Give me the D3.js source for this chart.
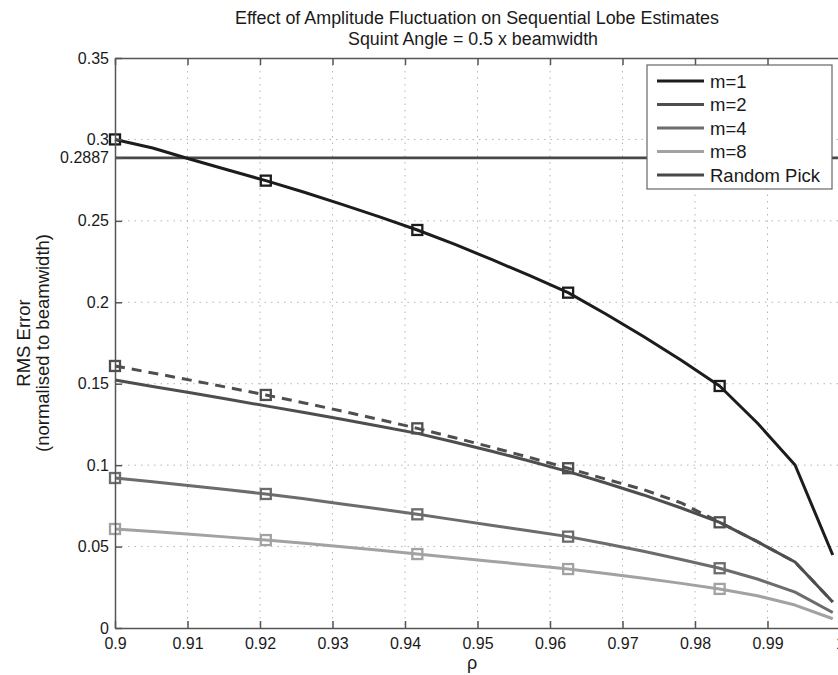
<!DOCTYPE html>
<html>
<head>
<meta charset="utf-8">
<script src="https://cdn.jsdelivr.net/npm/d3@7"></script>
<style>
	body { margin: 0; background: #ffffff; }
	svg { display: block; font-family: "Liberation Sans", Arial, Helvetica, sans-serif; }
</style>
</head>
<body>
<svg id="chart" width="838" height="675"></svg>
<script>

// rho samples (20 points from 0.9 to 0.999)
var vfRho = [0.9, 0.9052, 0.9104, 0.9156, 0.9208, 0.9261, 0.9313, 0.9365, 0.9417, 0.9469,
			 0.9521, 0.9573, 0.9625, 0.9677, 0.9729, 0.9781, 0.9834, 0.9886, 0.9938, 0.999];

var vfM1 = [0.300, 0.2947, 0.2878, 0.2812, 0.2747, 0.2676, 0.2601, 0.2524, 0.2444, 0.2355,
			0.2260, 0.2162, 0.2059, 0.1928, 0.1790, 0.1644, 0.1486, 0.1259, 0.1001, 0.0448];

var vfM2 = [0.1523, 0.1483, 0.1444, 0.1404, 0.1364, 0.1323, 0.1282, 0.1239, 0.1195, 0.1141,
			0.1084, 0.1024, 0.0960, 0.0890, 0.0817, 0.0737, 0.0649, 0.0530, 0.0405, 0.0160];

// dashed curve with open squares above m=2
var vfM2Theory = [0.1609, 0.1566, 0.1522, 0.1477, 0.1431, 0.1382, 0.1332, 0.1280, 0.1226, 0.1168,
				  0.1108, 0.1046, 0.0981, 0.0914, 0.0850, 0.0768, 0.0649, 0.0530, 0.0405, 0.0160];

var vfM4 = [0.0921, 0.0898, 0.0874, 0.0849, 0.0823, 0.0793, 0.0762, 0.0731, 0.0698, 0.0664,
			0.0630, 0.0596, 0.0561, 0.0517, 0.0471, 0.0421, 0.0367, 0.0301, 0.0220, 0.0095];

var vfM8 = [0.0608, 0.0593, 0.0576, 0.0558, 0.0540, 0.0520, 0.0499, 0.0477, 0.0454, 0.0432,
			0.0409, 0.0386, 0.0362, 0.0335, 0.0306, 0.0274, 0.0240, 0.0198, 0.0141, 0.0057];

var fRandomPick = 0.2887;

var vnMarkerIndex = [0, 4, 8, 12, 16];

var vfXTicks = [0.9, 0.91, 0.92, 0.93, 0.94, 0.95, 0.96, 0.97, 0.98, 0.99, 1.0];
var vsXTickLabels = ["0.9", "0.91", "0.92", "0.93", "0.94", "0.95", "0.96", "0.97", "0.98", "0.99", "1"];

var vfYTicks = [0, 0.05, 0.1, 0.15, 0.2, 0.25, 0.2887, 0.3, 0.35];
var vsYTickLabels = ["0", "0.05", "0.1", "0.15", "0.2", "0.25", "0.2887", "0.3", "0.35"];

var vsLegend = ["m=1", "m=2", "m=4", "m=8", "Random Pick"];

var g_colorM1 = "#1c1c1c";
var g_colorM2 = "#4e4e4e";
var g_colorM4 = "#6c6c6c";
var g_colorM8 = "#a2a2a2";
var g_colorRandom = "#484848";
var g_colorAxis = "#555555";
var g_colorGrid = "#b4b4b4";

var nLeft = 115, nRight = 840, nTop = 58, nBottom = 628;

var g_domSVG = d3.select("#chart");

g_domSVG.append("rect")
			.attr("width", 838)
			.attr("height", 675)
			.attr("fill", "#ffffff");

var xScale = d3.scaleLinear().domain([0.9, 1.0]).range([nLeft, nRight]);
var yScale = d3.scaleLinear().domain([0, 0.35]).range([nBottom, nTop]);

// ---------------------------------------------------------------- grid

g_domSVG.selectAll("line.gridx")
			.data(vfXTicks.slice(1, -1))
			.enter()
			.append("line")
				.attr("class", "gridx")
				.attr("x1", function(d) { return xScale(d); })
				.attr("x2", function(d) { return xScale(d); })
				.attr("y1", nTop)
				.attr("y2", nBottom)
				.attr("stroke", g_colorGrid)
				.attr("stroke-width", 1)
				.attr("stroke-dasharray", "1.5,5");

g_domSVG.selectAll("line.gridy")
			.data(vfYTicks.filter(function(d) { return d > 0 && d < 0.35; }))
			.enter()
			.append("line")
				.attr("class", "gridy")
				.attr("x1", nLeft)
				.attr("x2", nRight)
				.attr("y1", function(d) { return yScale(d); })
				.attr("y2", function(d) { return yScale(d); })
				.attr("stroke", g_colorGrid)
				.attr("stroke-width", 1)
				.attr("stroke-dasharray", "1.5,5");

// ---------------------------------------------------------------- curves

var funcLine = d3.line()
				.x(function(d) { return xScale(d[0]); })
				.y(function(d) { return yScale(d[1]); });

function funcPairs(vfValues) {
	return vfRho.map(function(r, i) { return [r, vfValues[i]]; });
}

g_domSVG.append("line")
			.attr("x1", xScale(0.9))
			.attr("x2", xScale(1.0))
			.attr("y1", yScale(fRandomPick))
			.attr("y2", yScale(fRandomPick))
			.attr("stroke", g_colorRandom)
			.attr("stroke-width", 2.6);

var vCurves = [
	{ values: vfM8, color: g_colorM8, dash: null, markers: true },
	{ values: vfM4, color: g_colorM4, dash: null, markers: true },
	{ values: vfM2, color: g_colorM2, dash: null, markers: false },
	{ values: vfM2Theory, color: g_colorM2, dash: "10,7", markers: true },
	{ values: vfM1, color: g_colorM1, dash: null, markers: true }
];

vCurves.forEach(function(c) {

	g_domSVG.append("path")
				.attr("d", funcLine(funcPairs(c.values)))
				.attr("fill", "none")
				.attr("stroke", c.color)
				.attr("stroke-width", 3)
				.attr("stroke-linejoin", "round")
				.attr("stroke-dasharray", c.dash);

	if (!c.markers)
		return;

	g_domSVG.selectAll(null)
				.data(vnMarkerIndex)
				.enter()
				.append("rect")
					.attr("x", function(i) { return xScale(vfRho[i]) - 5; })
					.attr("y", function(i) { return yScale(c.values[i]) - 5; })
					.attr("width", 10)
					.attr("height", 10)
					.attr("fill", "none")
					.attr("stroke", c.color)
					.attr("stroke-width", 2.3);
});

// ---------------------------------------------------------------- axes

var xAxis = d3.axisBottom(xScale)
				.tickValues(vfXTicks)
				.tickFormat(function(d, i) { return vsXTickLabels[i]; })
				.tickSizeInner(-7)
				.tickSizeOuter(0)
				.tickPadding(10);

var yAxis = d3.axisLeft(yScale)
				.tickValues(vfYTicks)
				.tickFormat(function(d, i) { return vsYTickLabels[i]; })
				.tickSizeInner(-7)
				.tickSizeOuter(0)
				.tickPadding(6);

var xTop = d3.axisTop(xScale)
				.tickValues(vfXTicks)
				.tickFormat("")
				.tickSizeInner(-7)
				.tickSizeOuter(0);

var gX = g_domSVG.append("g").attr("transform", "translate(0," + nBottom + ")").call(xAxis);
var gY = g_domSVG.append("g").attr("transform", "translate(" + nLeft + ",0)").call(yAxis);
var gTop = g_domSVG.append("g").attr("transform", "translate(0," + nTop + ")").call(xTop);

[gX, gY, gTop].forEach(function(g) {
	g.selectAll("path.domain").attr("stroke", g_colorAxis).attr("stroke-width", 1.5);
	g.selectAll(".tick line").attr("stroke", g_colorAxis).attr("stroke-width", 1.5);
	g.selectAll(".tick text")
		.attr("fill", "#1a1a1a")
		.attr("font-size", "16px")
		.attr("font-family", "'Liberation Sans', Arial, sans-serif");
});

// ---------------------------------------------------------------- titles

g_domSVG.append("text")
			.attr("x", 477)
			.attr("y", 24)
			.attr("text-anchor", "middle")
			.attr("font-size", "18px")
			.attr("fill", "#1a1a1a")
			.attr("textLength", 484)
			.attr("lengthAdjust", "spacingAndGlyphs")
			.text("Effect of Amplitude Fluctuation on Sequential Lobe Estimates");

g_domSVG.append("text")
			.attr("x", 473)
			.attr("y", 45)
			.attr("text-anchor", "middle")
			.attr("font-size", "18px")
			.attr("fill", "#1a1a1a")
			.attr("textLength", 250)
			.attr("lengthAdjust", "spacingAndGlyphs")
			.text("Squint Angle = 0.5 x beamwidth");

g_domSVG.append("text")
			.attr("transform", "translate(30," + ((nTop + nBottom) / 2) + ") rotate(-90)")
			.attr("text-anchor", "middle")
			.attr("font-size", "18.5px")
			.attr("fill", "#1a1a1a")
			.text("RMS Error");

g_domSVG.append("text")
			.attr("transform", "translate(49," + ((nTop + nBottom) / 2) + ") rotate(-90)")
			.attr("text-anchor", "middle")
			.attr("font-size", "18.5px")
			.attr("fill", "#1a1a1a")
			.text("(normalised to beamwidth)");

g_domSVG.append("text")
			.attr("x", 472)
			.attr("y", 669)
			.attr("text-anchor", "middle")
			.attr("font-size", "18px")
			.attr("fill", "#1a1a1a")
			.text("ρ");

// ---------------------------------------------------------------- legend

var vsLegendColor = [g_colorM1, g_colorM2, g_colorM4, g_colorM8, g_colorRandom];

var domLegend = g_domSVG.append("g").attr("transform", "translate(647,65)");

domLegend.append("rect")
			.attr("width", 185)
			.attr("height", 124)
			.attr("fill", "#ffffff")
			.attr("stroke", "#666666")
			.attr("stroke-width", 1.2);

var domItems = domLegend.selectAll("g.item")
			.data(vsLegend)
			.enter()
			.append("g")
				.attr("class", "item")
				.attr("transform", function(d, i) { return "translate(0," + (16 + i * 23.5) + ")"; });

domItems.append("line")
			.attr("x1", 10)
			.attr("x2", 57)
			.attr("stroke", function(d, i) { return vsLegendColor[i]; })
			.attr("stroke-width", 3);

domItems.append("text")
			.attr("x", 63)
			.attr("dy", "0.36em")
			.attr("font-size", "18.5px")
			.attr("fill", "#1a1a1a")
			.text(function(d) { return d; });

</script>
</body>
</html>
